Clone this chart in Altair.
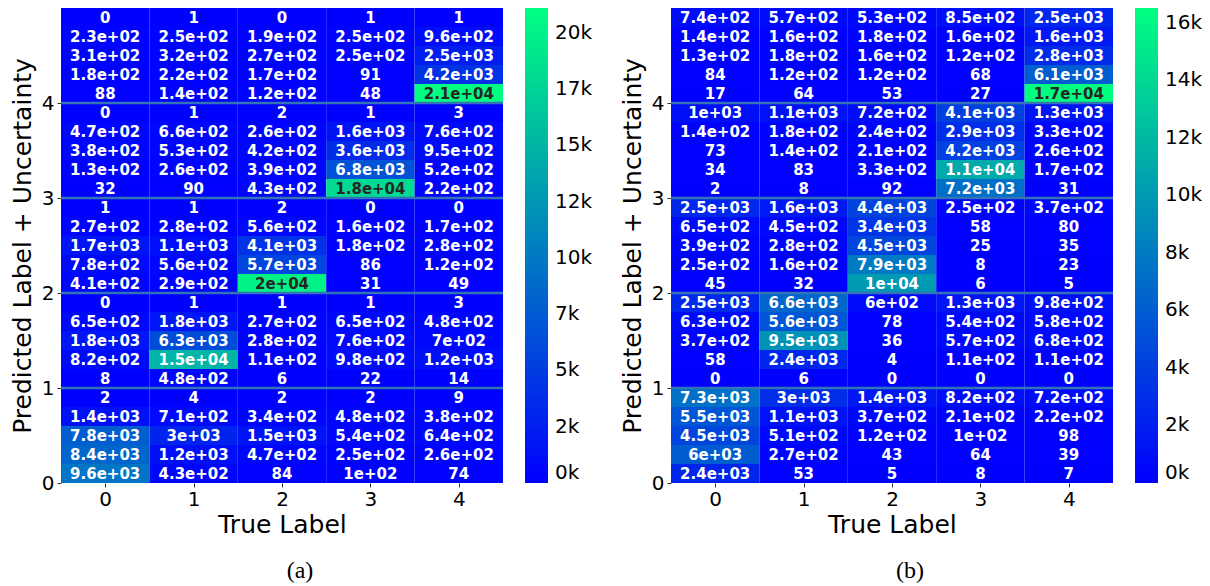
import altair as alt
import pandas as pd

# ---------------- data ----------------
true_labels = [0, 1, 2, 3, 4]
band_edges = [1, 2, 3, 4]

# Panel (a): rows listed from top (predicted 4, first uncertainty level) to bottom
a_pred4 = [[0, 1, 0, 1, 1],
           [230, 250, 190, 250, 960],
           [310, 320, 270, 250, 2500],
           [180, 220, 170, 91, 4200],
           [88, 140, 120, 48, 21100]]
a_pred3 = [[0, 1, 2, 1, 3],
           [470, 660, 260, 1600, 760],
           [380, 530, 420, 3600, 950],
           [130, 260, 390, 6800, 520],
           [32, 90, 430, 18000, 220]]
a_pred2 = [[1, 1, 2, 0, 0],
           [270, 280, 560, 160, 170],
           [1700, 1100, 4100, 180, 280],
           [780, 560, 5700, 86, 120],
           [410, 290, 20000, 31, 49]]
a_pred1 = [[0, 1, 1, 1, 3],
           [650, 1800, 270, 650, 480],
           [1800, 6300, 280, 760, 700],
           [820, 15000, 110, 980, 1200],
           [8, 480, 6, 22, 14]]
a_pred0 = [[2, 4, 2, 2, 9],
           [1400, 710, 340, 480, 380],
           [7800, 3000, 1500, 540, 640],
           [8400, 1200, 470, 250, 260],
           [9600, 430, 84, 100, 74]]

# Panel (b)
b_pred4 = [[740, 570, 530, 850, 2500],
           [140, 160, 180, 160, 1600],
           [130, 180, 160, 120, 2800],
           [84, 120, 120, 68, 6100],
           [17, 64, 53, 27, 16520]]
b_pred3 = [[1000, 1100, 720, 4100, 1300],
           [140, 180, 240, 2900, 330],
           [73, 140, 210, 4200, 260],
           [34, 83, 330, 11000, 170],
           [2, 8, 92, 7200, 31]]
b_pred2 = [[2500, 1600, 4400, 250, 370],
           [650, 450, 3400, 58, 80],
           [390, 280, 4500, 25, 35],
           [250, 160, 7900, 8, 23],
           [45, 32, 10000, 6, 5]]
b_pred1 = [[2500, 6600, 600, 1300, 980],
           [630, 5600, 78, 540, 580],
           [370, 9500, 36, 570, 680],
           [58, 2400, 4, 110, 110],
           [0, 6, 0, 0, 0]]
b_pred0 = [[7300, 3000, 1400, 820, 720],
           [5500, 1100, 370, 210, 220],
           [4500, 510, 120, 100, 98],
           [6000, 270, 43, 64, 39],
           [2400, 53, 5, 8, 7]]

a_vmax = 21100
b_vmax = 16520
a_ticks = [0, 2500, 5000, 7500, 10000, 12500, 15000, 17500, 20000]
b_ticks = [0, 2000, 4000, 6000, 8000, 10000, 12000, 14000, 16000]
y_ticks = [0, 1, 2, 3, 4]

FONT = "DejaVu Sans"
W, H = 442, 475


def make_df(rows):
    recs = []
    n = len(rows)
    for i, r in enumerate(rows):
        level = n - 1 - i
        for c, v in zip(true_labels, r):
            recs.append(dict(col=c, level=level, v=v, label=format(v, ".2g")))
    return pd.DataFrame(recs)


def panel(rows, vmax, ticks, caption, leg_offset):
    df = make_df(rows)
    base = alt.Chart(df).transform_calculate(
        x0="datum.col - 0.5",
        x1="datum.col + 0.5",
        y0="datum.level / 5",
        y1="(datum.level + 1) / 5",
        yc="(datum.level + 0.5) / 5",
    )
    xs = alt.Scale(domain=[-0.5, 4.5], nice=False, zero=False)
    ys = alt.Scale(domain=[0, 5], nice=False, zero=False)
    xaxis = alt.Axis(values=true_labels, title="True Label", format="d",
                     labelPadding=2, titlePadding=3)
    yaxis = alt.Axis(values=y_ticks, title="Predicted Label + Uncertainty",
                     format="d", labelPadding=3, titlePadding=6, labelAngle=0)
    rect = base.mark_rect().encode(
        x=alt.X("x0:Q", scale=xs, axis=xaxis),
        x2="x1:Q",
        y=alt.Y("y0:Q", scale=ys, axis=yaxis),
        y2="y1:Q",
        color=alt.Color(
            "v:Q",
            scale=alt.Scale(domain=[0, vmax], range=["#0000ff", "#00ff80"], interpolate="rgb"),
            legend=alt.Legend(title=None, values=ticks,
                              labelExpr="floor(datum.value / 1000) + 'k'",
                              gradientLength=H, gradientThickness=23,
                              gradientStrokeWidth=0,
                              labelFontSize=20, labelFont=FONT, labelColor="black",
                              labelOverlap=False, labelOffset=7, offset=leg_offset,
                              padding=0, labelBaseline="middle"),
        ),
    )
    rules = alt.Chart(pd.DataFrame({"b": band_edges})).mark_rule(
        color="#3274b5", strokeWidth=2.5
    ).encode(y=alt.Y("b:Q", scale=ys, axis=yaxis))
    text = base.mark_text(fontWeight="bold", fontSize=15, font=FONT).encode(
        x=alt.X("col:Q", scale=xs, axis=xaxis),
        y=alt.Y("yc:Q", scale=ys, axis=yaxis),
        text="label:N",
        color=alt.condition(f"datum.v > {0.8 * vmax}", alt.value("#262626"), alt.value("white")),
    )
    return alt.layer(rect, rules, text).properties(
        width=W, height=H,
        title=alt.TitleParams(caption, orient="bottom", anchor="middle", font="Liberation Serif",
                              fontSize=24, fontWeight="normal", color="black", offset=22, dx=18),
    )


rows_a = a_pred4 + a_pred3 + a_pred2 + a_pred1 + a_pred0
rows_b = b_pred4 + b_pred3 + b_pred2 + b_pred1 + b_pred0

pa = panel(rows_a, a_vmax, a_ticks, "(a)", 22)
pb = panel(rows_b, b_vmax, b_ticks, "(b)", 22)

chart = alt.hconcat(pa, pb, spacing=27).resolve_scale(color="independent").configure_view(
    stroke=None
).configure_axis(
    labelFont=FONT, titleFont=FONT, labelFontSize=20, titleFontSize=25,
    titleFontWeight="normal", labelColor="black", titleColor="black",
    domain=False, grid=False, tickColor="#333333", tickSize=4,
).properties(
    padding={"left": 10, "top": 8, "right": 0, "bottom": 0}, background="white"
)

chart.save("out.html", embed_options={"renderer": "svg", "actions": False})
